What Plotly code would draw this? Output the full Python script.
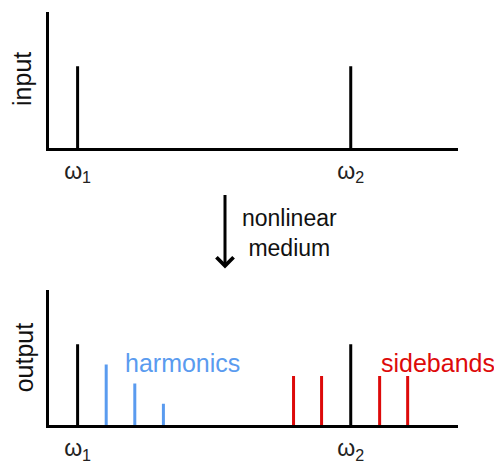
import plotly.graph_objects as go

# data (arbitrary frequency units, omega1 = 1)
input_freqs = [1.0, 10.55]
input_amps = [0.6, 0.6]
pump_freqs = [1.0, 10.55]
pump_amps = [0.6, 0.6]
harmonic_freqs = [2.0, 3.0, 4.0]
harmonic_amps = [0.45, 0.31, 0.16]
sideband_freqs = [8.55, 9.53, 11.56, 12.54]
sideband_amps = [0.365, 0.365, 0.365, 0.365]
tick_vals = [1.0, 10.55]
tick_text = ["ω<sub>1</sub>", "ω<sub>2</sub>"]

BLACK = "#000000"
BLUE = "#5a9bef"
RED = "#dd0a0a"
FONT = "Liberation Sans"

W, H = 494, 464


def stems(xs, ys):
    px, py = [], []
    for x, y in zip(xs, ys):
        px += [x, x, None]
        py += [0, y, None]
    return px, py


fig = go.Figure()
for xs, ys, col, xa, ya in [
    (input_freqs, input_amps, BLACK, "x", "y"),
    (pump_freqs, pump_amps, BLACK, "x2", "y2"),
    (harmonic_freqs, harmonic_amps, BLUE, "x2", "y2"),
    (sideband_freqs, sideband_amps, RED, "x2", "y2"),
]:
    px, py = stems(xs, ys)
    fig.add_trace(go.Scatter(x=px, y=py, mode="lines", xaxis=xa, yaxis=ya,
                             line=dict(color=col, width=3), showlegend=False,
                             hoverinfo="skip", cliponaxis=False))

xdom = [49 / W, 458 / W]
top_dom = [(H - 150) / H, (H - 12) / H]
bot_dom = [(H - 431) / H, (H - 294) / H]

xcommon = dict(range=[0, 14.3], showgrid=False, zeroline=False, showline=True,
               linecolor=BLACK, linewidth=3, ticks="", tickvals=tick_vals,
               ticktext=tick_text, tickfont=dict(family=FONT, size=23, color="#222"),
               fixedrange=True)
ycommon = dict(range=[0, 1], showgrid=False, zeroline=False, showline=True,
               linecolor=BLACK, linewidth=3, showticklabels=False, ticks="",
               fixedrange=True)

fig.update_layout(
    width=W, height=H, margin=dict(l=0, r=0, t=0, b=0),
    paper_bgcolor="white", plot_bgcolor="white",
    xaxis=dict(domain=xdom, anchor="y", **xcommon),
    yaxis=dict(domain=top_dom, anchor="x", **ycommon),
    xaxis2=dict(domain=xdom, anchor="y2", **xcommon),
    yaxis2=dict(domain=bot_dom, anchor="x2", **ycommon),
)

ann_font = dict(family=FONT, size=25, color="#111")
fig.add_annotation(text="input", x=22 / W, y=(H - 80) / H, xref="paper", yref="paper",
                   xanchor="center", yanchor="middle",
                   textangle=-90, showarrow=False, font=ann_font)
fig.add_annotation(text="output", x=24 / W, y=(H - 362) / H, xref="paper", yref="paper",
                   xanchor="center", yanchor="middle",
                   textangle=-90, showarrow=False, font=ann_font)
fig.add_annotation(text="harmonics", x=2.6, y=0.465, xref="x2", yref="y2",
                   xanchor="left", yanchor="middle", showarrow=False,
                   font=dict(family=FONT, size=25, color=BLUE))
fig.add_annotation(text="sidebands", x=11.55, y=0.465, xref="x2", yref="y2",
                   xanchor="left", yanchor="middle", showarrow=False,
                   font=dict(family=FONT, size=25, color=RED))
# arrow
fig.add_annotation(x=225 / W, y=(H - 272) / H, ax=0, ay=-75,
                   xref="paper", yref="paper", axref="pixel", ayref="pixel",
                   text="", showarrow=True, arrowhead=4, arrowsize=1.1,
                   arrowwidth=3, arrowcolor=BLACK)
fig.add_annotation(text="nonlinear<br>medium", x=289 / W, y=(H - 236) / H,
                   xref="paper", yref="paper", xanchor="center", yanchor="middle",
                   showarrow=False,
                   font=dict(family=FONT, size=23, color="#111"))

fig.write_html("out.html")
